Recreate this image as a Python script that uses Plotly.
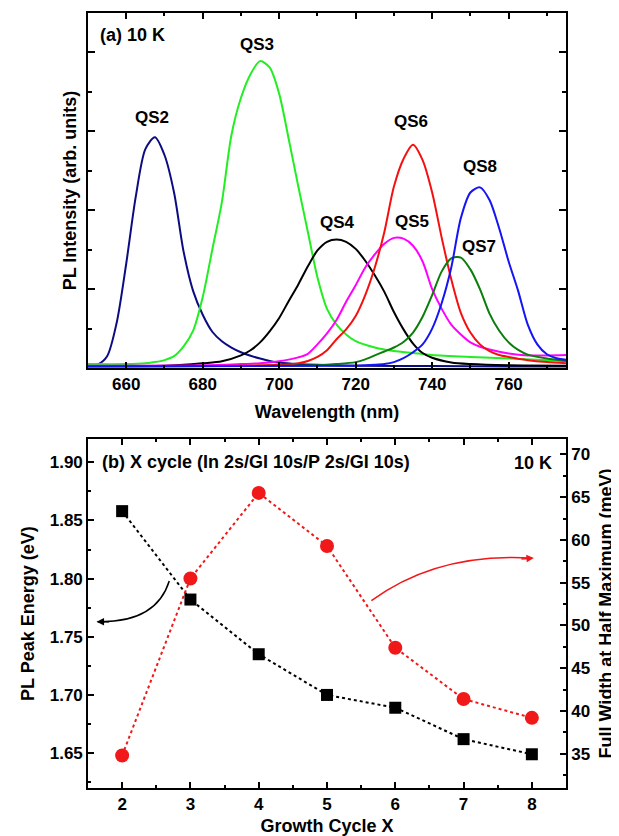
import plotly.graph_objects as go

# ---------------- Panel (a): PL spectra at 10 K ----------------
qs2_wl = [650, 652.5, 655, 657.5, 660, 662.5, 665, 667.5, 670, 672.5, 675, 677.5, 680, 682.5, 685,
          687.5, 690, 692.5, 695, 697.5, 700, 705, 710, 720, 740, 760, 775]
qs2_int = [0.06, 0.09, 0.3, 1.15, 2.65, 4.35, 5.55, 5.85, 5.4, 4.45, 2.95, 1.95, 1.35, 0.92, 0.68,
           0.52, 0.4, 0.31, 0.24, 0.18, 0.14, 0.1, 0.08, 0.06, 0.05, 0.04, 0.04]

qs3_wl = [650, 660, 665, 667.5, 670, 672.5, 675, 677.5, 680, 682.5, 685, 687.5, 690, 692.5, 695,
          697.5, 700, 702.5, 705, 707.5, 710, 712.5, 715, 717.5, 720, 725, 730, 735, 740, 750, 760, 775]
qs3_int = [0.1, 0.1, 0.12, 0.15, 0.2, 0.3, 0.55, 0.95, 1.8, 3.0, 4.2, 5.9, 6.85, 7.45, 7.78,
           7.62, 6.95, 5.8, 4.6, 3.45, 2.3, 1.5, 1.1, 0.85, 0.68, 0.52, 0.43, 0.38, 0.33, 0.28, 0.24, 0.18]

qs4_wl = [650, 670, 675, 680, 685, 690, 692.5, 695, 697.5, 700, 702.5, 705, 707.5, 710, 712.5, 715,
          717.5, 720, 722.5, 725, 727.5, 730, 732.5, 735, 737.5, 740, 745, 750, 760, 775]
qs4_int = [0.05, 0.06, 0.08, 0.12, 0.17, 0.32, 0.45, 0.65, 0.93, 1.27, 1.7, 2.12, 2.58, 2.98, 3.2, 3.26,
           3.2, 3.02, 2.72, 2.35, 1.93, 1.42, 0.98, 0.62, 0.38, 0.26, 0.14, 0.1, 0.07, 0.06]

qs5_wl = [650, 680, 690, 695, 700, 705, 707.5, 710, 712.5, 715, 717.5, 720, 722.5, 725, 727.5, 730,
          732.5, 735, 737.5, 740, 742.5, 745, 747.5, 750, 752.5, 755, 760, 765, 770, 775]
qs5_int = [0.06, 0.07, 0.1, 0.12, 0.17, 0.27, 0.36, 0.6, 0.88, 1.22, 1.68, 2.1, 2.55, 2.88, 3.15, 3.3,
           3.28, 3.1, 2.7, 2.0, 1.5, 1.1, 0.85, 0.65, 0.54, 0.47, 0.37, 0.32, 0.32, 0.33]

qs6_wl = [650, 700, 705, 707.5, 710, 712.5, 715, 717.5, 720, 722.5, 725, 727.5, 730, 732.5, 735,
          737.5, 740, 742.5, 745, 747.5, 750, 752.5, 755, 757.5, 760, 765, 770, 775]
qs6_int = [0.04, 0.08, 0.12, 0.18, 0.28, 0.45, 0.73, 0.98, 1.32, 1.85, 2.55, 3.45, 4.6, 5.3, 5.66,
           5.27, 4.45, 3.3, 2.25, 1.4, 0.9, 0.6, 0.43, 0.33, 0.28, 0.2, 0.15, 0.12]

qs7_wl = [650, 710, 715, 720, 722.5, 725, 727.5, 730, 732.5, 735, 737.5, 740, 742.5, 745, 747.5,
          750, 752.5, 755, 757.5, 760, 762.5, 765, 770, 775]
qs7_int = [0.05, 0.07, 0.1, 0.15, 0.22, 0.32, 0.42, 0.52, 0.66, 0.9, 1.3, 1.85, 2.45, 2.78, 2.8,
           2.5, 2.0, 1.38, 0.95, 0.65, 0.46, 0.34, 0.24, 0.18]

qs8_wl = [650, 720, 725, 727.5, 730, 732.5, 735, 737.5, 740, 742.5, 745, 747.5, 750, 752.5, 755,
          757.5, 760, 762.5, 765, 767.5, 770, 772.5, 775]
qs8_int = [0.04, 0.06, 0.08, 0.1, 0.15, 0.25, 0.4, 0.6, 1.0, 1.65, 2.55, 3.8, 4.45, 4.58, 4.26,
           3.55, 2.7, 1.95, 1.1, 0.6, 0.35, 0.25, 0.21]

spectra_names = ["QS2", "QS3", "QS4", "QS5", "QS6", "QS7", "QS8"]
spectra_colors = ["#0c0c82", "#22ee22", "#000000", "#ff00ff", "#f51010", "#0a7d0a", "#1414f5"]
label_x = [666.8, 694.3, 715.2, 734.6, 734.5, 752.2, 752.4]
label_y = [6.36, 8.2, 3.69, 3.71, 6.25, 3.08, 5.11]

# ---------------- Panel (b): peak energy & FWHM vs growth cycle ----------------
cycles = [2, 3, 4, 5, 6, 7, 8]
peak_energy_eV = [1.858, 1.782, 1.735, 1.700, 1.689, 1.662, 1.649]
fwhm_meV = [34.8, 55.5, 65.5, 59.3, 47.4, 41.4, 39.2]

FONT = "Liberation Sans, Arial, sans-serif"
bold = lambda s: dict(family=FONT, size=s, color="black", weight="bold")

fig = go.Figure()

spectra = [(qs2_wl, qs2_int), (qs3_wl, qs3_int), (qs4_wl, qs4_int), (qs5_wl, qs5_int),
           (qs6_wl, qs6_int), (qs7_wl, qs7_int), (qs8_wl, qs8_int)]
for (wl, it), name, col in zip(spectra, spectra_names, spectra_colors):
    fig.add_trace(go.Scatter(x=wl, y=it, mode="lines", name=name,
                             line=dict(color=col, width=2, shape="spline", smoothing=0.8),
                             xaxis="x", yaxis="y", showlegend=False))

fig.add_trace(go.Scatter(x=cycles, y=peak_energy_eV, mode="lines+markers", name="PL peak energy",
                         line=dict(color="black", width=2, dash="dot"),
                         marker=dict(symbol="square", size=12, color="black"),
                         xaxis="x2", yaxis="y2", showlegend=False))
fig.add_trace(go.Scatter(x=cycles, y=fwhm_meV, mode="lines+markers", name="FWHM",
                         line=dict(color="#f01818", width=2, dash="dot"),
                         marker=dict(symbol="circle", size=14, color="#f01818"),
                         xaxis="x2", yaxis="y3", showlegend=False))

top_dom = [0.5419, 1.0]
bot_dom = [0.0, 0.4503]
axcommon = dict(showline=True, linecolor="black", linewidth=1.6, ticks="inside",
                tickcolor="black", tickwidth=1.5, showgrid=False, zeroline=False,
                tickfont=bold(17), automargin=False)
minor_style = dict(ticks="inside", tickcolor="black", tickwidth=1.5)

# The page body adds an 8 px offset, so the figure is sized 611x828 and margins compensate.
fig.update_layout(
    width=611, height=828,
    margin=dict(l=80, r=53, t=5, b=48),
    paper_bgcolor="white", plot_bgcolor="white",
    template="none",
    xaxis=dict(axcommon, domain=[0, 1], anchor="y", range=[650, 775], tick0=660, dtick=20,
               ticklen=6, mirror="ticks",
               minor=dict(minor_style, tick0=650, dtick=10, ticklen=3),
               title=dict(text="Wavelength (nm)", font=bold(18), standoff=12)),
    yaxis=dict(axcommon, domain=top_dom, anchor="x", range=[0, 9], tickvals=[2, 4, 6, 8],
               ticklen=7, mirror="ticks", showticklabels=False,
               minor=dict(minor_style, tickvals=[1, 3, 5, 7], ticklen=4),
               title=dict(text="PL Intensity (arb. units)", font=bold(18), standoff=5)),
    xaxis2=dict(axcommon, domain=[0, 1], anchor="y2", range=[1.5, 8.5], tick0=2, dtick=1,
                ticklen=6, mirror="ticks",
                minor=dict(minor_style, tick0=1.5, dtick=0.5, ticklen=3),
                title=dict(text="Growth Cycle X", font=bold(18), standoff=10)),
    yaxis2=dict(axcommon, domain=bot_dom, anchor="x2", range=[1.62, 1.92], tick0=1.65, dtick=0.05,
                tickformat=".2f", ticklen=6, mirror=False,
                minor=dict(minor_style, tick0=1.625, dtick=0.05, ticklen=3),
                title=dict(text="PL Peak Energy (eV)", font=bold(18), standoff=10)),
    yaxis3=dict(axcommon, overlaying="y2", side="right", anchor="x2", range=[31.0, 71.8],
                tick0=35, dtick=5, ticklen=6,
                minor=dict(minor_style, tick0=32.5, dtick=5, ticklen=3),
                title=dict(text="Full Width at Half Maximum (meV)", font=bold(18), standoff=10)),
)

# Spectrum labels
for name, lx, ly in zip(spectra_names, label_x, label_y):
    fig.add_annotation(x=lx, y=ly, xref="x", yref="y", text=name, showarrow=False, font=bold(17))
fig.add_annotation(x=652.5, y=8.43, xref="x", yref="y", text="(a) 10 K", showarrow=False,
                   xanchor="left", font=bold(18))

fig.add_annotation(x=1.67, y=1.90, xref="x2", yref="y2", text="(b) X cycle (In 2s/GI 10s/P 2s/GI 10s)",
                   showarrow=False, xanchor="left", font=bold(18))
fig.add_annotation(x=8.33, y=1.899, xref="x2", yref="y2", text="10 K", showarrow=False,
                   xanchor="right", font=bold(18))

# Curved arrows pointing to the relevant axes
fig.add_shape(type="path", xref="x2", yref="y2", path="M 2.69,1.798 Q 2.5,1.762 1.64,1.763",
              line=dict(color="black", width=1.5))
fig.add_annotation(x=1.625, y=1.763, xref="x2", yref="y2", ax=14, ay=0, text="", showarrow=True,
                   arrowhead=2, arrowsize=1, arrowwidth=1.5, arrowcolor="black")
fig.add_shape(type="path", xref="x2", yref="y3", path="M 5.65,52.9 Q 6.6,58.5 7.98,57.9",
              line=dict(color="#f01818", width=1.5))
fig.add_annotation(x=8.03, y=57.88, xref="x2", yref="y3", ax=-14, ay=1, text="", showarrow=True,
                   arrowhead=2, arrowsize=1, arrowwidth=1.5, arrowcolor="#f01818")

fig.write_html("out.html")
